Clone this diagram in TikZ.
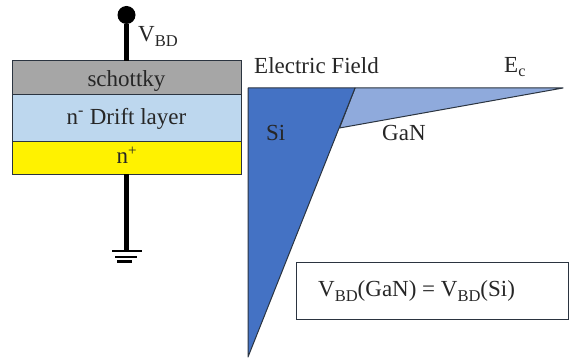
\documentclass[tikz,border=0pt]{standalone}
\usepackage{fontspec}
\setmainfont{Liberation Serif}
\usetikzlibrary{positioning}
\definecolor{edgegrey}{HTML}{2B3440}
\definecolor{schottkygrey}{HTML}{A6A6A6}
\definecolor{driftblue}{HTML}{BDD7EE}
\definecolor{siblue}{HTML}{4472C4}
\definecolor{ganblue}{HTML}{8FAADC}
\newcommand{\bdsub}{\raisebox{-5pt}{\fontsize{16.5}{16.5}\selectfont BD}}
\newcommand{\plussup}{\raisebox{8pt}{\fontsize{15}{15}\selectfont +}}
\tikzset{
    layer/.style={draw=edgegrey, line width=1pt, minimum width=229pt, inner sep=0pt, outer sep=0pt, text=black!85},
    wire/.style={line width=4.5pt, black},
    gndbar/.style={line width=2.4pt, black},
    lbl/.style={inner sep=0pt, text=black!85},
    field/.style={draw=edgegrey, line width=1pt, line join=round}
}
\begin{document}
\begin{tikzpicture}[x=1pt, y=-1pt, every node/.style={font=\fontsize{23}{27}\selectfont}]
    \useasboundingbox (0,0) rectangle (569,358);

    \node [layer, fill=schottkygrey, minimum height=34pt, text height=20pt, text depth=2pt] (schottky) at (126.5,78) {schottky};
    \node [layer, fill=driftblue, minimum height=47pt, below=0pt of schottky] (drift) {n\textsuperscript{-} Drift layer};
    \node [layer, fill=yellow, minimum height=32pt, text height=15pt, text depth=5pt, below=0pt of drift] (nplus) {n\plussup};

    \node [circle, fill=black, minimum size=18pt, inner sep=0pt] (top) at (126.5,15) {};
    \coordinate (gnd) at (126.5,251);
    \draw [wire] (top) -- (schottky.north);
    \draw [wire] (nplus.south) -- (gnd);
    \coordinate (g1a) at (112,251);
    \coordinate (g1b) at (142,251);
    \coordinate (g2a) at (115,257);
    \coordinate (g2b) at (137,257);
    \coordinate (g3a) at (117,261.5);
    \coordinate (g3b) at (132,261.5);
    \draw [gndbar] (g1a) -- (g1b);
    \draw [gndbar] (g2a) -- (g2b);
    \draw [gndbar] (g3a) -- (g3b);

    \coordinate (origin) at (248,88);
    \coordinate (sitop) at (355,88);
    \coordinate (sibot) at (248,357);
    \coordinate (gankink) at (339.5,128);
    \coordinate (gantip) at (563,88);
    \filldraw [field, fill=ganblue] (sitop) -- (gantip) -- (gankink) -- cycle;
    \filldraw [field, fill=siblue] (origin) -- (sitop) -- (sibot) -- cycle;

    \node [lbl, anchor=base west] (vbd) at (138,42) {V\bdsub};
    \node [lbl, anchor=base west] (efield) at (254,74) {Electric Field};
    \node [lbl, anchor=base west] (ec) at (504,73) {E\textsubscript{c}};
    \node [lbl, anchor=base west] (si) at (266,140) {Si};
    \node [lbl, anchor=base west] (gan) at (382,141) {GaN};

    \node [draw=edgegrey, line width=1pt, minimum width=272pt, minimum height=57pt, inner sep=0pt] (formula) at (432,290.5) {};
    \node [lbl, anchor=base west] (vgan) at (318,296) {V\bdsub(GaN) = V\bdsub(Si)};
\end{tikzpicture}
\end{document}
